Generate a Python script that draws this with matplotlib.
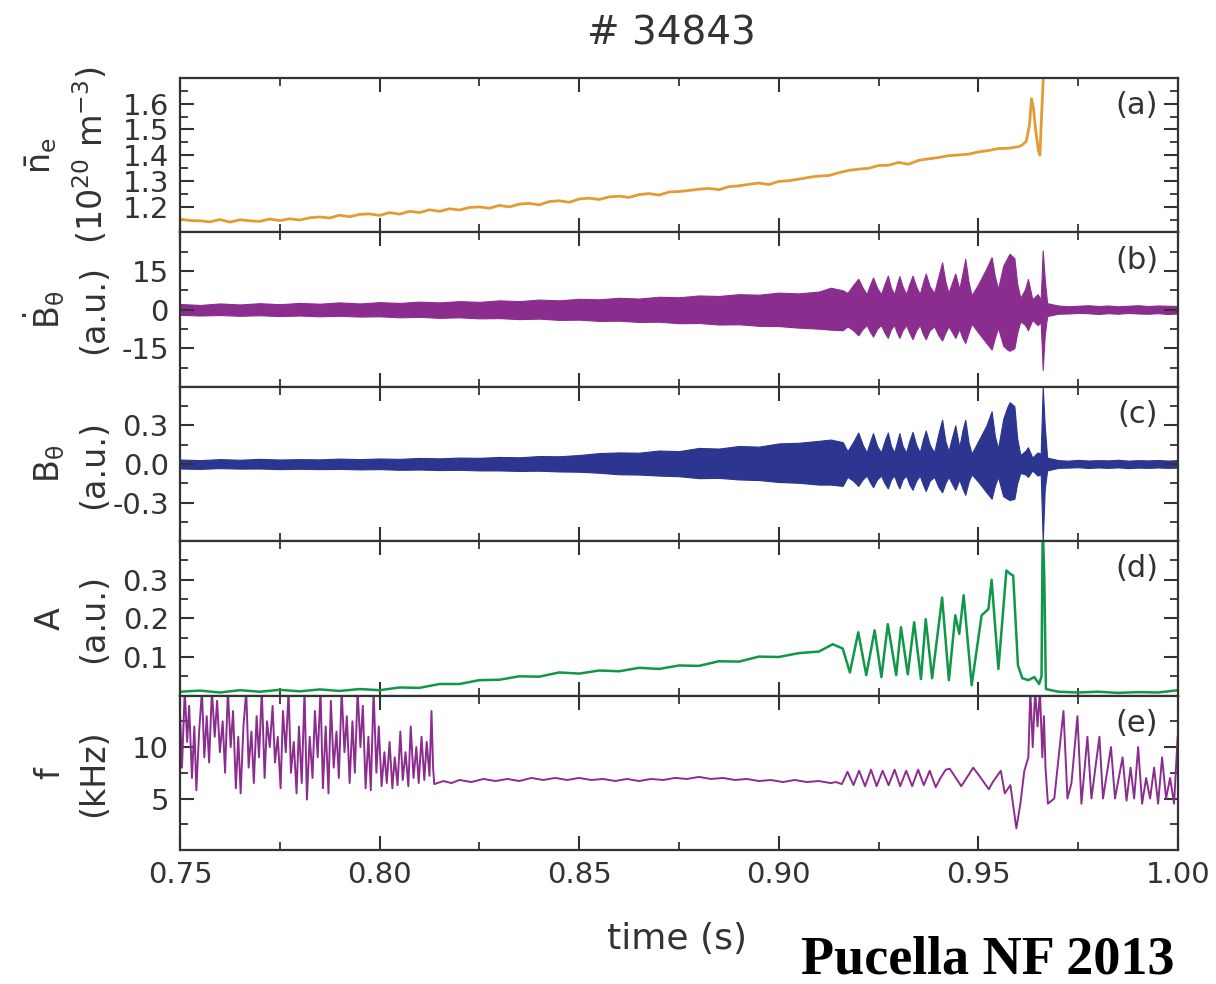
import matplotlib.pyplot as plt
import numpy as np
from matplotlib.ticker import MultipleLocator, FormatStrFormatter

plt.rcParams['font.family'] = ['DejaVu Sans']
plt.rcParams['mathtext.default'] = 'regular'
plt.rcParams['axes.unicode_minus'] = False

# (a) line-averaged density, sampled every 2.5 ms up to 0.96 s
t_a = np.linspace(0.75, 0.96, 85)
ne = [1.152, 1.146, 1.145, 1.141, 1.150, 1.140, 1.149, 1.145, 1.143, 1.152,
      1.146, 1.153, 1.148, 1.157, 1.160, 1.156, 1.167, 1.161, 1.170, 1.172,
      1.166, 1.177, 1.171, 1.182, 1.177, 1.188, 1.182, 1.192, 1.187, 1.197,
      1.199, 1.194, 1.205, 1.199, 1.210, 1.213, 1.207, 1.220, 1.223, 1.217,
      1.230, 1.233, 1.228, 1.238, 1.241, 1.236, 1.247, 1.251, 1.245, 1.257,
      1.259, 1.263, 1.268, 1.271, 1.266, 1.278, 1.281, 1.287, 1.292, 1.286,
      1.298, 1.301, 1.307, 1.314, 1.319, 1.321, 1.332, 1.341, 1.346, 1.349,
      1.360, 1.361, 1.372, 1.365, 1.380, 1.386, 1.391, 1.398, 1.401, 1.404,
      1.413, 1.418, 1.426, 1.427, 1.433]
# density spike before the disruption
t_a_end = [0.9610, 0.9620, 0.9628, 0.9633, 0.9638, 0.9643, 0.9650, 0.9654, 0.9658, 0.9664]
ne_end = [1.440, 1.455, 1.52, 1.62, 1.58, 1.50, 1.42, 1.40, 1.55, 1.75]

# (b) dB/dt and (c) B_theta envelopes (upper, lower) on a common time base
t_bc = [0.750, 0.755, 0.760, 0.765, 0.770, 0.775, 0.780, 0.785, 0.790, 0.795,
        0.800, 0.805, 0.810, 0.815, 0.820, 0.825, 0.830, 0.835, 0.840, 0.845,
        0.850, 0.855, 0.860, 0.865, 0.870, 0.875, 0.880, 0.885, 0.890, 0.895,
        0.900, 0.905, 0.910, 0.913, 0.916,
        0.9172, 0.9186, 0.9199, 0.9210, 0.9220, 0.9228, 0.9236, 0.9246, 0.9256, 0.9265,
        0.9273, 0.9281, 0.9289, 0.9296, 0.9302, 0.9310, 0.9319, 0.9327, 0.9335, 0.9344,
        0.9353, 0.9361, 0.9368, 0.9378, 0.9389, 0.9400, 0.9409, 0.9417, 0.9425, 0.9435,
        0.9442, 0.9452, 0.9460, 0.9467, 0.9475, 0.9483, 0.9500, 0.9520, 0.9533, 0.9541,
        0.9549, 0.9562, 0.9572, 0.9578, 0.9590, 0.9597, 0.9605, 0.9617, 0.9624, 0.9635,
        0.9648, 0.9656, 0.9661, 0.9666, 0.9672,
        0.9700, 0.9725, 0.9750, 0.9775, 0.9800, 0.9825, 0.9850, 0.9875, 0.9900, 0.9925,
        0.9950, 0.9975, 1.0000]
b_hi = [2.2, 1.8, 2.4, 2.0, 2.5, 2.1, 2.6, 2.3, 2.8, 2.4,
        2.9, 2.6, 3.1, 2.8, 3.3, 3.0, 3.6, 3.3, 3.9, 3.6,
        4.2, 4.0, 4.6, 4.3, 5.0, 4.8, 5.5, 5.3, 6.0, 5.8,
        6.6, 6.3, 7.0, 8.5, 7.5,
        6.5, 9.5, 12.0, 8.5, 6.0, 9.5, 12.5, 8.5, 6.0, 10.0,
        13.2, 8.5, 6.0, 10.0, 13.0, 9.0, 6.0, 10.0, 13.2, 9.0,
        6.0, 10.5, 14.0, 9.0, 6.5, 13.0, 18.4, 11.0, 6.5, 11.0,
        14.0, 8.0, 14.0, 19.7, 11.0, 5.5, 10.0, 16.0, 20.4, 13.0,
        8.0, 17.0, 20.0, 21.7, 20.0, 10.0, 4.5, 8.0, 11.9, 4.0,
        6.0, 4.0, 23.0, 12.0, 2.5,
        1.6, 1.3, 1.5, 1.7, 1.4, 1.6, 1.3, 1.5, 1.7, 1.4,
        1.6, 1.5, 1.4]
b_lo = [-2.0, -2.3, -2.1, -2.4, -2.2, -2.5, -2.3, -2.6, -2.4, -2.7,
        -2.6, -3.0, -2.8, -3.2, -3.0, -3.4, -3.3, -3.7, -3.5, -4.0,
        -3.9, -4.4, -4.3, -4.8, -4.7, -5.3, -5.2, -5.8, -5.7, -6.3,
        -6.4, -7.0, -7.4, -7.8, -8.0,
        -6.5, -8.0, -10.0, -7.5, -6.0, -8.5, -10.5, -7.5, -6.0, -9.0,
        -11.0, -7.5, -6.0, -9.0, -11.0, -8.0, -6.0, -9.0, -11.5, -8.0,
        -6.0, -9.5, -11.5, -8.0, -6.5, -10.0, -12.0, -9.0, -6.5, -9.0,
        -11.0, -7.5, -11.0, -13.0, -9.0, -5.5, -9.0, -13.0, -15.5, -11.0,
        -7.0, -14.0, -15.5, -16.0, -15.0, -9.0, -4.5, -6.0, -8.0, -4.0,
        -6.0, -5.0, -23.4, -10.0, -2.5,
        -1.6, -1.5, -1.3, -1.4, -1.7, -1.4, -1.6, -1.3, -1.5, -1.6,
        -1.4, -1.7, -1.5]
c_hi = [0.035, 0.030, 0.038, 0.033, 0.040, 0.035, 0.038, 0.036, 0.042, 0.038,
        0.043, 0.040, 0.047, 0.044, 0.050, 0.048, 0.055, 0.052, 0.062, 0.060,
        0.070, 0.085, 0.090, 0.088, 0.105, 0.100, 0.125, 0.120, 0.140, 0.135,
        0.160, 0.165, 0.180, 0.190, 0.170,
        0.10, 0.17, 0.245, 0.15, 0.09, 0.17, 0.240, 0.14, 0.09, 0.18,
        0.245, 0.14, 0.09, 0.17, 0.240, 0.14, 0.09, 0.18, 0.250, 0.15,
        0.09, 0.19, 0.260, 0.15, 0.09, 0.24, 0.345, 0.18, 0.10, 0.22,
        0.300, 0.13, 0.26, 0.345, 0.17, 0.08, 0.18, 0.30, 0.410, 0.22,
        0.12, 0.35, 0.44, 0.480, 0.450, 0.20, 0.07, 0.10, 0.13, 0.05,
        0.09, 0.08, 0.60, 0.30, 0.05,
        0.030, 0.026, 0.032, 0.027, 0.030, 0.028, 0.033, 0.026, 0.030, 0.028,
        0.031, 0.027, 0.030]
c_lo = [-0.035, -0.038, -0.032, -0.036, -0.035, -0.040, -0.037, -0.040, -0.038, -0.042,
        -0.040, -0.045, -0.043, -0.047, -0.045, -0.050, -0.050, -0.054, -0.052, -0.058,
        -0.060, -0.068, -0.080, -0.082, -0.090, -0.095, -0.110, -0.108, -0.120, -0.125,
        -0.140, -0.146, -0.160, -0.160, -0.170,
        -0.10, -0.13, -0.17, -0.12, -0.09, -0.14, -0.18, -0.12, -0.09, -0.15,
        -0.19, -0.12, -0.09, -0.15, -0.19, -0.12, -0.09, -0.16, -0.20, -0.13,
        -0.09, -0.16, -0.21, -0.13, -0.10, -0.18, -0.22, -0.15, -0.10, -0.16,
        -0.20, -0.12, -0.19, -0.24, -0.14, -0.08, -0.14, -0.22, -0.27, -0.17,
        -0.10, -0.25, -0.27, -0.28, -0.27, -0.15, -0.07, -0.08, -0.10, -0.05,
        -0.09, -0.08, -0.60, -0.20, -0.05,
        -0.030, -0.028, -0.025, -0.031, -0.027, -0.030, -0.026, -0.032, -0.028, -0.030,
        -0.027, -0.030, -0.028]

# (d) mode amplitude
t_d = [0.750, 0.755, 0.760, 0.765, 0.770, 0.775, 0.780, 0.785, 0.790, 0.795,
       0.800, 0.805, 0.810, 0.815, 0.820, 0.825, 0.830, 0.835, 0.840, 0.845,
       0.850, 0.855, 0.860, 0.865, 0.870, 0.875, 0.880, 0.885, 0.890, 0.895,
       0.900, 0.905, 0.910, 0.9135, 0.916,
       0.9178, 0.9199, 0.9219, 0.9240, 0.9257, 0.9273, 0.9294, 0.9306, 0.9323, 0.9339,
       0.9356, 0.9368, 0.9384, 0.9409, 0.9426, 0.9442, 0.9452, 0.9463, 0.9483, 0.9508,
       0.9525, 0.9533, 0.9550, 0.9570, 0.9580, 0.9587, 0.9599, 0.9610, 0.9625, 0.9640,
       0.9652, 0.9658, 0.9661, 0.9665, 0.9669, 0.9700, 0.9750, 0.9800, 0.9850, 0.9900,
       0.9950, 1.0000]
amp = [0.010, 0.013, 0.008, 0.014, 0.010, 0.015, 0.011, 0.016, 0.012, 0.017,
       0.014, 0.021, 0.020, 0.030, 0.030, 0.040, 0.041, 0.050, 0.049, 0.060,
       0.057, 0.065, 0.063, 0.072, 0.069, 0.078, 0.077, 0.089, 0.088, 0.101,
       0.100, 0.110, 0.114, 0.133, 0.122,
       0.060, 0.164, 0.053, 0.169, 0.048, 0.185, 0.053, 0.177, 0.055, 0.190,
       0.043, 0.198, 0.045, 0.254, 0.040, 0.208, 0.160, 0.260, 0.027, 0.208,
       0.224, 0.300, 0.069, 0.324, 0.315, 0.311, 0.078, 0.045, 0.040, 0.048,
       0.030, 0.050, 0.450, 0.300, 0.017, 0.010, 0.008, 0.010, 0.007, 0.009,
       0.008, 0.014]

# (e) mode frequency
t_e = [0.7500, 0.7505, 0.7512, 0.7518, 0.7523, 0.7530, 0.7536, 0.7541, 0.7548, 0.7555,
       0.7561, 0.7567, 0.7573, 0.7580, 0.7587, 0.7593, 0.7600, 0.7607, 0.7613, 0.7620,
       0.7627, 0.7633, 0.7640, 0.7646, 0.7652, 0.7659, 0.7666, 0.7672, 0.7679, 0.7685,
       0.7692, 0.7698, 0.7705, 0.7712, 0.7718, 0.7725, 0.7732, 0.7738, 0.7745, 0.7752,
       0.7758, 0.7765, 0.7772, 0.7778, 0.7785, 0.7792, 0.7798, 0.7805, 0.7812, 0.7818,
       0.7825, 0.7832, 0.7838, 0.7845, 0.7852, 0.7858, 0.7865, 0.7872, 0.7878, 0.7885,
       0.7892, 0.7898, 0.7905, 0.7912, 0.7918, 0.7925, 0.7932, 0.7938, 0.7945, 0.7952,
       0.7958, 0.7965, 0.7972, 0.7978, 0.7985, 0.7992, 0.7998, 0.8005, 0.8012, 0.8018,
       0.8025, 0.8032, 0.8038, 0.8045, 0.8052, 0.8058, 0.8065, 0.8072, 0.8078, 0.8085,
       0.8092, 0.8098, 0.8105, 0.8112, 0.8118, 0.8125, 0.8130, 0.8134, 0.8137,
       0.8160, 0.8180, 0.8200, 0.8230, 0.8260, 0.8290, 0.8320, 0.8350, 0.8380, 0.8410,
       0.8440, 0.8470, 0.8500, 0.8530, 0.8560, 0.8590, 0.8620, 0.8650, 0.8680, 0.8710,
       0.8740, 0.8770, 0.8800, 0.8830, 0.8860, 0.8890, 0.8920, 0.8950, 0.8980, 0.9010,
       0.9040, 0.9070, 0.9100, 0.9130, 0.9143, 0.9158,
       0.9172, 0.9187, 0.9201, 0.9216, 0.9231, 0.9245, 0.9260, 0.9275, 0.9290, 0.9304,
       0.9319, 0.9334, 0.9349, 0.9363, 0.9378, 0.9393, 0.9405, 0.9418, 0.9428, 0.9457,
       0.9487, 0.9506, 0.9526, 0.9536, 0.9556, 0.9566, 0.9580, 0.9595, 0.9605, 0.9615,
       0.9625, 0.9630, 0.9636, 0.9642, 0.9648, 0.9654, 0.9660, 0.9664, 0.9668, 0.9674,
       0.9690, 0.9713, 0.9723, 0.9733, 0.9748, 0.9758, 0.9773, 0.9783, 0.9803, 0.9812,
       0.9832, 0.9842, 0.9861, 0.9871, 0.9881, 0.9890, 0.9900, 0.9910, 0.9920, 0.9930,
       0.9940, 0.9950, 0.9960, 0.9970, 0.9980, 0.9990, 0.9999]
freq = [13.5, 8.0, 15.5, 10.5, 14.0, 7.0, 12.0, 5.8, 11.5, 15.5,
        9.0, 13.0, 8.5, 15.5, 11.0, 14.5, 9.5, 12.5, 7.5, 15.5,
        10.0, 13.5, 6.0, 11.0, 5.5, 12.0, 15.5, 8.0, 11.5, 6.5,
        13.0, 9.0, 15.5, 7.0, 12.5, 10.0, 14.0, 8.5, 11.0, 6.0,
        13.5, 9.5, 15.5, 7.5, 10.5, 5.5, 12.0, 6.5, 15.5, 4.9,
        11.0, 7.0, 13.5, 9.0, 15.5, 6.0, 12.0, 5.5, 14.5, 8.0,
        11.5, 7.0, 15.5, 9.5, 13.0, 6.5, 12.5, 7.5, 15.5, 10.0,
        14.0, 6.0, 11.0, 5.8, 15.5, 7.5, 12.0, 6.2, 9.5, 6.5,
        10.5, 6.0, 9.0, 6.3, 11.5, 6.8, 9.5, 6.2, 12.0, 7.0,
        10.0, 6.5, 11.0, 6.8, 10.5, 7.2, 13.5, 8.0, 6.4,
        6.7, 6.5, 6.8, 6.6, 6.9, 6.7, 6.9, 6.7, 7.0, 6.8,
        7.0, 6.8, 7.0, 6.8, 6.9, 6.7, 6.9, 6.7, 6.9, 6.8,
        7.0, 6.9, 7.1, 6.9, 7.0, 6.8, 6.9, 6.7, 6.8, 6.6,
        6.8, 6.6, 6.7, 6.5, 6.6, 6.4,
        7.6, 6.3, 7.7, 6.2, 7.8, 6.2, 7.7, 6.3, 7.8, 6.2,
        7.7, 6.2, 7.8, 6.3, 7.7, 6.1, 7.0, 7.8, 7.9, 6.2,
        8.0, 7.0, 5.9, 6.6, 7.7, 5.5, 6.3, 2.1, 4.5, 7.7,
        9.0, 15.5, 10.0, 15.5, 12.0, 15.5, 9.0, 13.0, 8.0, 4.5,
        5.0, 13.5, 5.0, 6.5, 13.0, 4.5, 11.0, 5.0, 11.0, 5.0,
        10.0, 5.0, 9.0, 4.8, 8.0, 5.0, 10.0, 4.5, 7.0, 5.0,
        8.0, 4.5, 9.0, 5.0, 7.0, 4.5, 11.0]

# y-axis settings per panel
ylims = [(1.1, 1.7), (-30, 30), (-0.6, 0.6), (0, 0.4), (0, 15)]
yminor = [0.05, 7.5, 0.15, 0.05, 2.5]
yfmt = ['%.1f', '%d', '%.1f', '%.1f', '%d']
yticks = [[1.2, 1.3, 1.4, 1.5, 1.6], [-15, 0, 15], [-0.3, 0.0, 0.3], [0.1, 0.2, 0.3], [5, 10]]
ylabels = ['$\\bar{n}_e$\n(10$^{20}$ m$^{-3}$)', '$\\dot{B}_\\theta$\n(a.u.)',
           '$B_\\theta$\n(a.u.)', 'A\n(a.u.)', 'f\n(kHz)']
panel_tags = ['(a)', '(b)', '(c)', '(d)', '(e)']

c_orange = '#E49B35'
c_purple = '#8B2D8E'
c_navy = '#2C3590'
c_green = '#12964A'
c_axis = '#333333'

fig = plt.figure(figsize=(12.16, 9.84), dpi=100)
axes = fig.subplots(5, 1, sharex=True, gridspec_kw=dict(hspace=0))
fig.subplots_adjust(left=0.148, right=0.9688, top=0.9207, bottom=0.1362)

axes[0].plot(list(t_a) + t_a_end, ne + ne_end, color=c_orange, lw=2)
axes[1].fill_between(t_bc, b_lo, b_hi, color=c_purple, lw=0.8, edgecolor=c_purple)
axes[2].fill_between(t_bc, c_lo, c_hi, color=c_navy, lw=0.8, edgecolor=c_navy)
axes[3].plot(t_d, amp, color=c_green, lw=1.8)
axes[4].plot(t_e, freq, color=c_purple, lw=1.4)

for i, ax in enumerate(axes):
    ax.set_xlim(0.75, 1.0)
    ax.set_ylim(*ylims[i])
    ax.set_yticks(yticks[i])
    ax.yaxis.set_minor_locator(MultipleLocator(yminor[i]))
    ax.yaxis.set_major_formatter(FormatStrFormatter(yfmt[i]))
    ax.xaxis.set_major_locator(MultipleLocator(0.05))
    ax.xaxis.set_minor_locator(MultipleLocator(0.025))
    ax.tick_params(which='both', direction='in', top=True, right=True,
                   colors=c_axis, labelsize=21, pad=8)
    ax.tick_params(which='major', length=10, width=1.5)
    ax.tick_params(which='minor', length=6, width=1.3)
    for sp in ax.spines.values():
        sp.set_color(c_axis)
        sp.set_linewidth(1.6)
    ax.set_ylabel(ylabels[i], fontsize=24, color=c_axis, linespacing=1.4)
    ax.yaxis.set_label_coords(-0.07, 0.5)
    ax.text(0.98, 0.82, panel_tags[i], transform=ax.transAxes, ha='right',
            va='center', fontsize=22, color=c_axis)

axes[-1].xaxis.set_major_formatter(FormatStrFormatter('%.2f'))

fig.text(0.552, 0.966, '# 34843', ha='center', va='center', fontsize=28, color=c_axis)
fig.text(0.557, 0.046, 'time (s)', ha='center', va='center', fontsize=26, color=c_axis)
fig.text(0.812, 0.024, 'Pucella NF 2013', ha='center', va='center', fontsize=39,
         fontweight='bold', family='Liberation Serif', color='black')

fig.savefig('out.png', dpi=100)
